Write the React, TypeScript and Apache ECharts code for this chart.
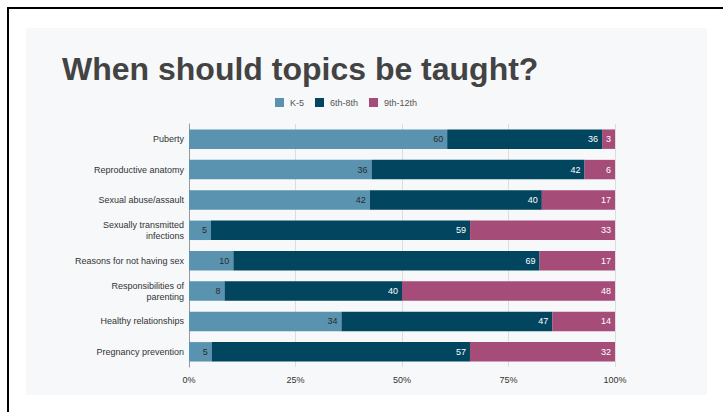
import React, { useEffect, useRef } from "react";
import * as echarts from "echarts";

const categories = [
  "Puberty",
  "Reproductive anatomy",
  "Sexual abuse/assault",
  "Sexually transmitted\ninfections",
  "Reasons for not having sex",
  "Responsibilities of\nparenting",
  "Healthy relationships",
  "Pregnancy prevention",
];
const seriesNames = ["K-5", "6th-8th", "9th-12th"];
const k5 = [60, 36, 42, 5, 10, 8, 34, 5];
const grade6to8 = [36, 42, 40, 59, 69, 40, 47, 57];
const grade9to12 = [3, 6, 17, 33, 17, 48, 14, 32];
const xTickLabels = ["0%", "25%", "50%", "75%", "100%"];

const colors = ["#5a93b0", "#02455f", "#a54d78"];
const labelColors = ["#2b2b2b", "#ffffff", "#ffffff"];

export default function App() {
  const ref = useRef<HTMLDivElement>(null);
  useEffect(() => {
    if (!ref.current) return;
    const chart = echarts.init(ref.current, null, { renderer: "svg" });
    const raw = [k5, grade6to8, grade9to12];
    const totals = categories.map((_, i) => raw[0][i] + raw[1][i] + raw[2][i]);
    const series = raw.map((arr, s) => ({
      name: seriesNames[s],
      type: "bar",
      stack: "total",
      barCategoryGap: "36%",
      itemStyle: { color: colors[s] },
      label: {
        show: true,
        position: "insideRight",
        distance: 4,
        fontSize: 9,
        fontFamily: "Liberation Sans, Arial, sans-serif",
        color: labelColors[s],
        formatter: (p: any) => String(p.data.raw),
      },
      data: arr.map((v, i) => ({ value: (v / totals[i]) * 100, raw: v })),
    }));
    chart.setOption({
      animation: false,
      backgroundColor: "#ffffff",
      textStyle: { fontFamily: "Liberation Sans, Arial, sans-serif" },
      graphic: [
        {
          type: "rect",
          shape: { x: 26, y: 28, width: 681, height: 367 },
          style: { fill: "#f7f8fa" },
          z: -10,
          silent: true,
        },
        {
          type: "line",
          shape: { x1: 8, y1: 8, x2: 723, y2: 8 },
          style: { stroke: "#000000", lineWidth: 2 },
          silent: true,
        },
        {
          type: "line",
          shape: { x1: 8, y1: 7, x2: 8, y2: 412 },
          style: { stroke: "#000000", lineWidth: 2 },
          silent: true,
        },
      ],
      title: {
        text: "When should topics be taught?",
        left: 62,
        top: 53,
        padding: 0,
        textStyle: {
          fontSize: 32,
          fontWeight: "bold",
          color: "#434343",
          fontFamily: "Liberation Sans, Arial, sans-serif",
        },
      },
      legend: {
        left: 275,
        top: 98,
        padding: 0,
        itemWidth: 9,
        itemHeight: 9,
        itemGap: 11,
        icon: "rect",
        textStyle: { fontSize: 9, color: "#555555", padding: [0, 0, 0, 1] },
        data: seriesNames,
      },
      grid: { left: 189, right: 108, top: 124, bottom: 45 },
      xAxis: {
        type: "value",
        min: 0,
        max: 100,
        interval: 25,
        axisLine: { show: false },
        axisTick: { show: false },
        splitLine: { lineStyle: { color: "#dddddd", width: 1 } },
        axisLabel: {
          fontSize: 9,
          color: "#333333",
          margin: 8,
          formatter: (v: number) => xTickLabels[Math.round(v / 25)],
        },
      },
      yAxis: {
        type: "category",
        inverse: true,
        data: categories,
        axisLine: { show: true, lineStyle: { color: "#999999", width: 1 } },
        axisTick: { show: false },
        axisLabel: { fontSize: 9, color: "#333333", margin: 5, lineHeight: 11 },
      },
      series,
    });
    return () => chart.dispose();
  }, []);
  return (
    <div
      ref={ref}
      style={{ position: "fixed", left: 0, top: 0, width: 723, height: 412 }}
    />
  );
}
